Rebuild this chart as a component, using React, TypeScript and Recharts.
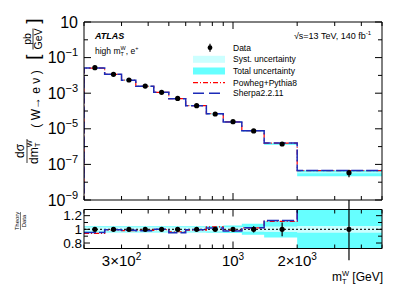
import React from "react";
import {
  ComposedChart,
  Line,
  Area,
  Scatter,
  ErrorBar,
  XAxis,
  YAxis,
  ReferenceLine,
} from "recharts";

// bins in m_T^W [GeV]
const binEdges = [200, 250, 300, 350, 425, 500, 600, 750, 900, 1100, 1400, 2000, 5000];
const binCenters = [225, 275, 325, 387.5, 462.5, 550, 675, 825, 1000, 1250, 1700, 3500];

// measured dsigma/dmT [pb/GeV]
const xsData = [0.027, 0.0115, 0.0055, 0.0025, 0.00112, 5.1e-4, 2.0e-4, 6.8e-5, 2.5e-5, 7.6e-6, 1.4e-6, 3.4e-8];

// theory / data
const sherpaRatio = [0.955, 0.995, 0.985, 0.98, 1.0, 0.95, 0.995, 1.02, 0.975, 1.025, 1.13, 1.32];
const powhegRatio = [0.94, 0.99, 0.98, 0.985, 0.995, 0.965, 0.99, 1.035, 0.985, 1.02, 1.115, 1.3];

// relative uncertainties
const systUnc = [0.03, 0.03, 0.03, 0.03, 0.03, 0.03, 0.03, 0.03, 0.032, 0.035, 0.04, 0.05];
const totalUnc = [0.045, 0.045, 0.045, 0.045, 0.045, 0.045, 0.045, 0.05, 0.055, 0.08, 0.12, 0.36];
const statUnc = [0.004, 0.005, 0.006, 0.007, 0.008, 0.01, 0.012, 0.015, 0.02, 0.045, 0.1, 0.45];

const xTicks = [200, 300, 400, 500, 600, 700, 800, 900, 1000, 2000, 3000, 4000, 5000];
const yTopTicks = [1e-9, 1e-8, 1e-7, 1e-6, 1e-5, 1e-4, 1e-3, 1e-2, 1e-1, 1, 10];
const yRatioTicks = [0.8, 0.9, 1, 1.1, 1.2];
const xLabels: Record<number, [string, string]> = {
  300: ["3×10", "2"],
  1000: ["10", "3"],
  2000: ["2×10", "3"],
};

const FONT = '"Liberation Sans", Arial, Helvetica, sans-serif';
const RED = "#ff0000";
const BLUE = "#1c2bb8";
const CYAN = "#66ffff";
const LCYAN = "#ccffff";

const at = (arr: number[], i: number) => arr[Math.min(i, arr.length - 1)];

const histTop = (ratio: number[]) => [
  { x: binEdges[0], y: 1e-12 },
  ...binEdges.map((x, i) => ({ x, y: at(xsData, i) * at(ratio, i) })),
];
const histRatio = (ratio: number[]) => binEdges.map((x, i) => ({ x, y: at(ratio, i) }));
const bandTop = (unc: number[]) =>
  binEdges.map((x, i) => ({ x, range: [at(xsData, i) * (1 - at(unc, i)), at(xsData, i) * (1 + at(unc, i))] }));
const bandRatio = (unc: number[]) => binEdges.map((x, i) => ({ x, range: [1 - at(unc, i), 1 + at(unc, i)] }));

const pointsTop = binCenters.map((x, i) => ({ x, y: xsData[i], err: xsData[i] * statUnc[i] }));
const pointsRatio = binCenters.map((x, i) => ({ x, y: 1, err: statUnc[i] }));

const dot = (p: any) => <circle cx={p.cx} cy={p.cy} r={2.6} fill="#000" />;

const XTickLines = (p: any) => {
  const v = Math.round(p.payload.value);
  const len = v === 1000 ? 7 : 4;
  const dir = p.top ? 1 : -1;
  const lab = xLabels[v];
  return (
    <g>
      <line x1={p.x} x2={p.x} y1={p.y} y2={p.y + dir * len} stroke="#000" />
      {p.labels && lab && (
        <text x={p.x} y={p.y + 17.5} textAnchor="middle" fontSize={15} fontFamily={FONT} fill="#000">
          {lab[0]}
          <tspan dy={-6} fontSize={10}>{lab[1]}</tspan>
        </text>
      )}
    </g>
  );
};

const TopYTick = (p: any) => {
  const e = Math.round(Math.log10(p.payload.value));
  const labeled = Math.abs(e) % 2 === 1;
  const dir = p.right ? -1 : 1;
  return (
    <g>
      <line x1={p.x} x2={p.x + dir * (labeled ? 7 : 4)} y1={p.y} y2={p.y} stroke="#000" />
      {!p.right && labeled && (
        <text x={p.x - 6} y={p.y + 5.5} textAnchor="end" fontSize={16} fontFamily={FONT} fill="#000">
          10
          {e !== 1 && <tspan dy={-7} fontSize={11}>{"−" + -e}</tspan>}
        </text>
      )}
    </g>
  );
};

const RatioYTick = (p: any) => {
  const v = p.payload.value;
  const labeled = Math.abs(v - 1) < 1e-6 || Math.abs(v - 0.8) < 1e-6 || Math.abs(v - 1.2) < 1e-6;
  const dir = p.right ? -1 : 1;
  return (
    <g>
      <line x1={p.x} x2={p.x + dir * (labeled ? 6 : 4)} y1={p.y} y2={p.y} stroke="#000" />
      {!p.right && labeled && (
        <text x={p.x - 2} y={p.y + 4.8} textAnchor="end" fontSize={13.5} fontFamily={FONT} fill="#000">
          {Math.abs(v - 1) < 1e-6 ? "1" : String(v)}
        </text>
      )}
    </g>
  );
};

function TopPanel() {
  return (
    <ComposedChart width={399} height={212} margin={{ top: 17, right: 16, bottom: 0, left: 0 }}>
      <XAxis xAxisId="b" type="number" dataKey="x" scale="log" domain={[200, 5000]} allowDataOverflow
        ticks={xTicks} interval={0} height={12} tickSize={0} tickMargin={0} tickLine={false}
        axisLine={{ stroke: "#000" }} tick={(p: any) => <XTickLines {...p} />} />
      <XAxis xAxisId="t" orientation="top" type="number" dataKey="x" scale="log" domain={[200, 5000]} allowDataOverflow
        ticks={xTicks} interval={0} height={5} tickSize={0} tickMargin={0} tickLine={false}
        axisLine={{ stroke: "#000" }} tick={(p: any) => <XTickLines {...p} top />} />
      <YAxis yAxisId="l" type="number" scale="log" domain={[1e-9, 10]} allowDataOverflow
        ticks={yTopTicks} interval={0} width={84} tickSize={0} tickMargin={0} tickLine={false}
        axisLine={{ stroke: "#000" }} tick={(p: any) => <TopYTick {...p} />} />
      <YAxis yAxisId="r" orientation="right" type="number" scale="log" domain={[1e-9, 10]} allowDataOverflow
        ticks={yTopTicks} interval={0} width={1} tickSize={0} tickMargin={0} tickLine={false}
        axisLine={{ stroke: "#000" }} tick={(p: any) => <TopYTick {...p} right />} />
      <Area xAxisId="b" yAxisId="l" data={bandTop(totalUnc)} dataKey="range" type="stepAfter"
        fill={CYAN} fillOpacity={1} stroke="none" isAnimationActive={false} />
      <Area xAxisId="b" yAxisId="l" data={bandTop(systUnc)} dataKey="range" type="stepAfter"
        fill={LCYAN} fillOpacity={1} stroke="none" isAnimationActive={false} />
      <Line xAxisId="b" yAxisId="l" data={histTop(powhegRatio)} dataKey="y" type="stepAfter"
        stroke={RED} strokeWidth={1.2} strokeDasharray="5 2 1 2" dot={false} activeDot={false} isAnimationActive={false} />
      <Line xAxisId="b" yAxisId="l" data={histTop(sherpaRatio)} dataKey="y" type="stepAfter"
        stroke={BLUE} strokeWidth={1.5} strokeDasharray="12 3" dot={false} activeDot={false} isAnimationActive={false} />
      <Scatter xAxisId="b" yAxisId="l" data={pointsTop} dataKey="y" shape={dot} isAnimationActive={false}>
        <ErrorBar dataKey="err" direction="y" width={0} stroke="#000" strokeWidth={1.2} />
      </Scatter>
    </ComposedChart>
  );
}

function RatioPanel() {
  return (
    <ComposedChart width={399} height={86} margin={{ top: 4.5, right: 16, bottom: 0, left: 0 }}>
      <XAxis xAxisId="b" type="number" dataKey="x" scale="log" domain={[200, 5000]} allowDataOverflow
        ticks={xTicks} interval={0} height={37.5} tickSize={0} tickMargin={0} tickLine={false}
        axisLine={{ stroke: "#000" }} tick={(p: any) => <XTickLines {...p} labels />} />
      <XAxis xAxisId="t" orientation="top" type="number" dataKey="x" scale="log" domain={[200, 5000]} allowDataOverflow
        ticks={xTicks} interval={0} height={5} tickSize={0} tickMargin={0} tickLine={false}
        axisLine={{ stroke: "#000" }} tick={(p: any) => <XTickLines {...p} top />} />
      <YAxis yAxisId="l" type="number" domain={[0.72, 1.29]} allowDataOverflow
        ticks={yRatioTicks} interval={0} width={84} tickSize={0} tickMargin={0} tickLine={false}
        axisLine={{ stroke: "#000" }} tick={(p: any) => <RatioYTick {...p} />} />
      <YAxis yAxisId="r" orientation="right" type="number" domain={[0.72, 1.29]} allowDataOverflow
        ticks={yRatioTicks} interval={0} width={1} tickSize={0} tickMargin={0} tickLine={false}
        axisLine={{ stroke: "#000" }} tick={(p: any) => <RatioYTick {...p} right />} />
      <Area xAxisId="b" yAxisId="l" data={bandRatio(totalUnc)} dataKey="range" type="stepAfter"
        fill={CYAN} fillOpacity={1} stroke="none" isAnimationActive={false} />
      <Area xAxisId="b" yAxisId="l" data={bandRatio(systUnc)} dataKey="range" type="stepAfter"
        fill={LCYAN} fillOpacity={1} stroke="none" isAnimationActive={false} />
      <ReferenceLine xAxisId="b" yAxisId="l" y={1} stroke="#222" strokeDasharray="2 2" strokeWidth={1.2} />
      <Line xAxisId="b" yAxisId="l" data={histRatio(powhegRatio)} dataKey="y" type="stepAfter"
        stroke={RED} strokeWidth={1.2} strokeDasharray="5 2 1 2" dot={false} activeDot={false} isAnimationActive={false} />
      <Line xAxisId="b" yAxisId="l" data={histRatio(sherpaRatio)} dataKey="y" type="stepAfter"
        stroke={BLUE} strokeWidth={1.5} strokeDasharray="12 3" dot={false} activeDot={false} isAnimationActive={false} />
      <Scatter xAxisId="b" yAxisId="l" data={pointsRatio} dataKey="y" shape={dot} isAnimationActive={false}>
        <ErrorBar dataKey="err" direction="y" width={0} stroke="#000" strokeWidth={1.2} />
      </Scatter>
    </ComposedChart>
  );
}

function Overlay() {
  const leg = [
    { y: 47.7, label: "Data" },
    { y: 59.3, label: "Syst. uncertainty" },
    { y: 71, label: "Total uncertainty" },
    { y: 82.7, label: "Powheg+Pythia8" },
    { y: 93.3, label: "Sherpa2.2.11" },
  ];
  return (
    <svg width={399} height={286} style={{ position: "absolute", left: 0, top: 0, pointerEvents: "none" }}
      fontFamily={FONT} fill="#000">
      <text x={95} y={38.5} fontSize={9} fontWeight="bold" fontStyle="italic">ATLAS</text>
      <text x={95} y={53.5} fontSize={8.5}>
        high m<tspan dy={2.5} fontSize={5.5}>T</tspan>
        <tspan dx={-3.4} dy={-6.5} fontSize={5.5}>W</tspan>
        <tspan dy={4}>, e</tspan>
        <tspan dy={-3.5} fontSize={5.5}>+</tspan>
      </text>
      <text x={371} y={38.5} fontSize={9} textAnchor="end">
        √s=13 TeV, 140 fb<tspan dy={-3.5} fontSize={6}>-1</tspan>
      </text>

      {/* legend */}
      <circle cx={210} cy={leg[0].y} r={2.4} />
      <line x1={210} x2={210} y1={leg[0].y - 4} y2={leg[0].y + 4} stroke="#000" strokeWidth={1.2} />
      <rect x={193} y={55.8} width={32} height={7} fill={LCYAN} />
      <rect x={193} y={67.5} width={32} height={7} fill={CYAN} />
      <line x1={193} x2={225} y1={leg[3].y} y2={leg[3].y} stroke={RED} strokeWidth={1.2} strokeDasharray="5 2 1 2" />
      <line x1={193} x2={225} y1={leg[4].y} y2={leg[4].y} stroke={BLUE} strokeWidth={1.5} strokeDasharray="11 5" />
      {leg.map((l) => (
        <text key={l.label} x={233} y={l.y + 3} fontSize={8.5}>{l.label}</text>
      ))}

      {/* y title, top panel */}
      <g transform="translate(27,151) rotate(-90)">
        <text x={0} y={-3.5} fontSize={12} textAnchor="middle">dσ</text>
        <line x1={-12} x2={12} y1={0} y2={0} stroke="#000" strokeWidth={0.8} />
        <text x={-1} y={10.5} fontSize={12} textAnchor="middle">
          dm<tspan dy={2.5} fontSize={7.5}>T</tspan>
          <tspan dx={-4.6} dy={-8} fontSize={7.5}>W</tspan>
        </text>
      </g>
      <g transform="translate(39.5,99) rotate(-90)">
        <text x={0} y={0} fontSize={12} textAnchor="middle">( W→ e ν )</text>
      </g>
      <g transform="translate(33,39) rotate(-90)">
        <text x={-18} y={6} fontSize={19} textAnchor="middle">[</text>
        <text x={0} y={-1.8} fontSize={10.5} textAnchor="middle">pb</text>
        <line x1={-10.5} x2={10.5} y1={0} y2={0} stroke="#000" strokeWidth={0.8} />
        <text x={0} y={9} fontSize={10.5} textAnchor="middle">GeV</text>
        <text x={18} y={6} fontSize={19} textAnchor="middle">]</text>
      </g>

      {/* y title, ratio panel */}
      <g transform="translate(20.5,221) rotate(-90)">
        <text x={0} y={-1.5} fontSize={6} textAnchor="middle">Theory</text>
        <line x1={-9} x2={9} y1={0} y2={0} stroke="#000" strokeWidth={0.5} />
        <text x={0} y={5.5} fontSize={6} textAnchor="middle">Data</text>
      </g>

      {/* x title */}
      <text x={383} y={281} fontSize={12} textAnchor="end">
        m<tspan dy={2.5} fontSize={7.5}>T</tspan>
        <tspan dx={-4.6} dy={-8} fontSize={7.5}>W</tspan>
        <tspan dy={5.5}> [GeV]</tspan>
      </text>
    </svg>
  );
}

export default function App() {
  return (
    <div style={{ position: "absolute", left: 0, top: 0, width: 399, height: 286, background: "#fff", fontFamily: FONT }}>
      <div style={{ position: "absolute", left: 0, top: 0 }}>
        <TopPanel />
      </div>
      <div style={{ position: "absolute", left: 0, top: 200 }}>
        <RatioPanel />
      </div>
      <Overlay />
    </div>
  );
}
